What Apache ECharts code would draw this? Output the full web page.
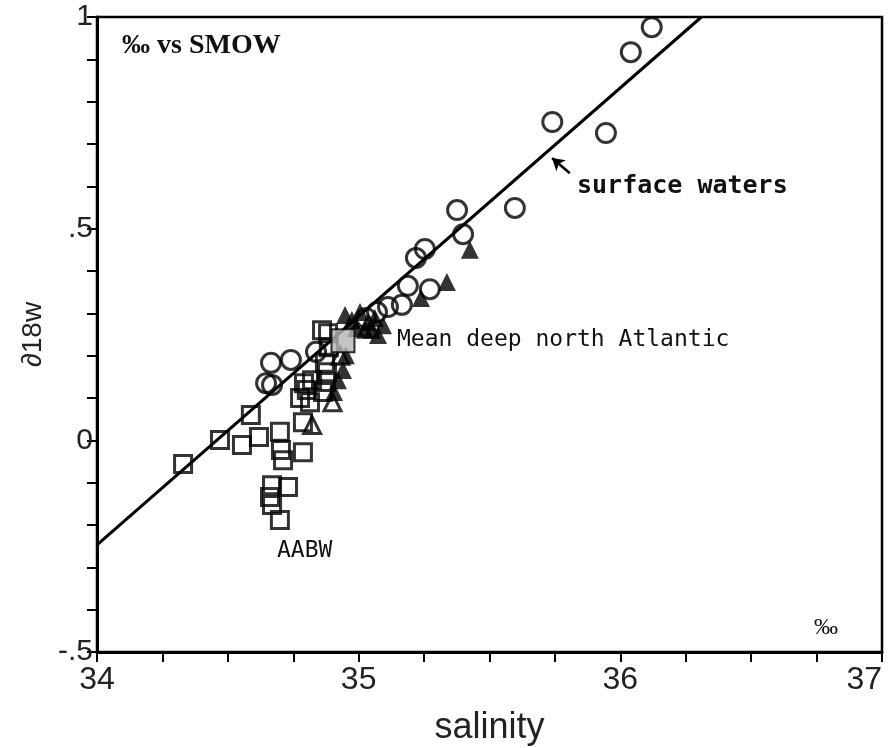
<!DOCTYPE html>
<html>
<head>
<meta charset="utf-8">
<script src="https://cdn.jsdelivr.net/npm/echarts@6/dist/echarts.min.js"></script>
<style>
  html, body { margin: 0; padding: 0; background: #fff; }
  #chart { width: 889px; height: 748px; }
</style>
</head>
<body>
<div id="chart"></div>
<script>
  // salinity (‰) vs d18O of water
  const circles = [
    [36.12, 0.976], [36.04, 0.917], [35.74, 0.752], [35.945, 0.726],
    [35.597, 0.549], [35.376, 0.544], [35.399, 0.487], [35.253, 0.452],
    [35.219, 0.431], [35.188, 0.365], [35.272, 0.357], [35.112, 0.315],
    [35.165, 0.320], [35.07, 0.303], [35.028, 0.289], [34.665, 0.183],
    [34.741, 0.190], [34.646, 0.135], [34.669, 0.131], [34.837, 0.209]
  ];
  const filledTriangles = [
    [35.425, 0.450], [35.337, 0.374], [35.238, 0.336],
    [34.948, 0.296], [34.974, 0.284], [35.005, 0.303], [35.036, 0.279],
    [35.051, 0.261], [35.074, 0.249], [35.024, 0.261], [35.062, 0.289],
    [35.093, 0.272], [34.99, 0.265], [34.951, 0.201], [34.94, 0.166],
    [34.921, 0.142], [34.906, 0.114]
  ];
  const openTriangles = [
    [34.822, 0.036], [34.9, 0.09], [34.93, 0.2]
  ];
  const squares = [
    [34.329, -0.056], [34.47, 0.001], [34.588, 0.06], [34.554, -0.011],
    [34.619, 0.008], [34.699, 0.02], [34.703, -0.023], [34.711, -0.047],
    [34.787, -0.028], [34.787, 0.043], [34.776, 0.10], [34.814, 0.09],
    [34.864, 0.114], [34.791, 0.135], [34.669, -0.106], [34.73, -0.11],
    [34.661, -0.134], [34.669, -0.153], [34.699, -0.188], [34.883, 0.253],
    [34.871, 0.183], [34.879, 0.161], [34.822, 0.142], [34.875, 0.138],
    [34.802, 0.119], [34.886, 0.22], [34.86, 0.26]
  ];
  const meanDeepNA = [[34.94, 0.235]];
  const fitLine = [[34.0, -0.247], [36.31, 1.0]];
  const arrowLine = [[35.807, 0.631], [35.739, 0.667]];

  const yLabels = { '1': '1', '0.5': '.5', '0': '0', '-0.5': '-.5' };

  const chart = echarts.init(document.getElementById('chart'));

  const openStyle = {
    color: 'rgba(255,255,255,0)',
    borderColor: '#000',
    borderWidth: 3
  };

  chart.setOption({
    backgroundColor: '#fff',
    animation: false,
    grid: {
      left: 97, right: 7, top: 17, bottom: 96,
      outerBoundsMode: 'none',
      containLabel: false,
      show: true, borderColor: '#000', borderWidth: 2.5
    },
    xAxis: {
      type: 'value',
      min: 34, max: 37, interval: 1,
      name: 'salinity',
      nameLocation: 'middle',
      nameGap: 58,
      nameTextStyle: { fontFamily: 'Liberation Sans', fontSize: 36, color: '#222' },
      axisLine: { onZero: false, lineStyle: { color: '#000', width: 3 } },
      axisTick: { show: true, inside: false, length: 10, lineStyle: { color: '#000', width: 2 } },
      minorTick: { show: true, splitNumber: 4, length: 10, lineStyle: { color: '#000', width: 2 } },
      axisLabel: {
        margin: 12, fontFamily: 'Liberation Sans', fontSize: 32, color: '#222',
        alignMaxLabel: 'right'
      },
      splitLine: { show: false }
    },
    yAxis: {
      type: 'value',
      min: -0.5, max: 1, interval: 0.5,
      name: '∂18w',
      nameLocation: 'middle',
      nameRotate: 90,
      nameGap: 48,
      nameTextStyle: { fontFamily: 'Liberation Sans', fontSize: 28, color: '#222' },
      axisLine: { onZero: false, lineStyle: { color: '#000', width: 3 } },
      axisTick: { show: true, inside: false, length: 10, lineStyle: { color: '#000', width: 2 } },
      minorTick: { show: true, splitNumber: 5, length: 10, lineStyle: { color: '#000', width: 2 } },
      axisLabel: {
        margin: 4, fontFamily: 'Liberation Sans', fontSize: 30, color: '#222',
        formatter: function (v) {
          return yLabels[String(Math.round(v * 10) / 10)] || '';
        }
      },
      splitLine: { show: false }
    },
    series: [
      {
        name: 'fit',
        type: 'line',
        data: fitLine,
        showSymbol: false,
        lineStyle: { color: '#000', width: 3 },
        z: 1,
        markLine: {
          silent: true,
          symbol: ['none', 'arrow'],
          symbolSize: [11, 12],
          label: { show: false },
          lineStyle: { color: '#000', width: 2.5, type: 'solid' },
          data: [[{ coord: arrowLine[0] }, { coord: arrowLine[1] }]]
        }
      },
      {
        name: 'squares',
        type: 'scatter',
        data: squares,
        symbol: 'rect',
        symbolSize: 17,
        itemStyle: openStyle,
        z: 3
      },
      {
        name: 'circles',
        type: 'scatter',
        data: circles,
        symbol: 'circle',
        symbolSize: 19,
        itemStyle: openStyle,
        z: 3
      },
      {
        name: 'open triangles',
        type: 'scatter',
        data: openTriangles,
        symbol: 'triangle',
        symbolSize: 17,
        itemStyle: openStyle,
        z: 3
      },
      {
        name: 'filled triangles',
        type: 'scatter',
        data: filledTriangles,
        symbol: 'triangle',
        symbolSize: 18,
        itemStyle: { color: '#000' },
        z: 4
      },
      {
        name: 'mean deep north Atlantic',
        type: 'scatter',
        data: meanDeepNA,
        symbol: 'rect',
        symbolSize: 23,
        itemStyle: { color: '#b5b5b5', borderColor: '#000', borderWidth: 2 },
        z: 5
      }
    ],
    graphic: [
      {
        type: 'text', x: 122, y: 46,
        style: { text: '‰ vs SMOW', font: 'bold 28px "Liberation Serif"', fill: '#111', verticalAlign: 'middle' }
      },
      {
        type: 'text', x: 577, y: 186,
        style: { text: 'surface waters', font: 'bold 25px "DejaVu Sans Mono"', fill: '#111', verticalAlign: 'middle' }
      },
      {
        type: 'text', x: 397, y: 340,
        style: { text: 'Mean deep north Atlantic', font: '23px "DejaVu Sans Mono"', fill: '#111', verticalAlign: 'middle' }
      },
      {
        type: 'text', x: 277, y: 551,
        style: { text: 'AABW', font: '23px "DejaVu Sans Mono"', fill: '#111', verticalAlign: 'middle' }
      },
      {
        type: 'text', x: 814, y: 628,
        style: { text: '‰', font: '24px "Liberation Serif"', fill: '#111', verticalAlign: 'middle' }
      }
    ]
  });
</script>
</body>
</html>
